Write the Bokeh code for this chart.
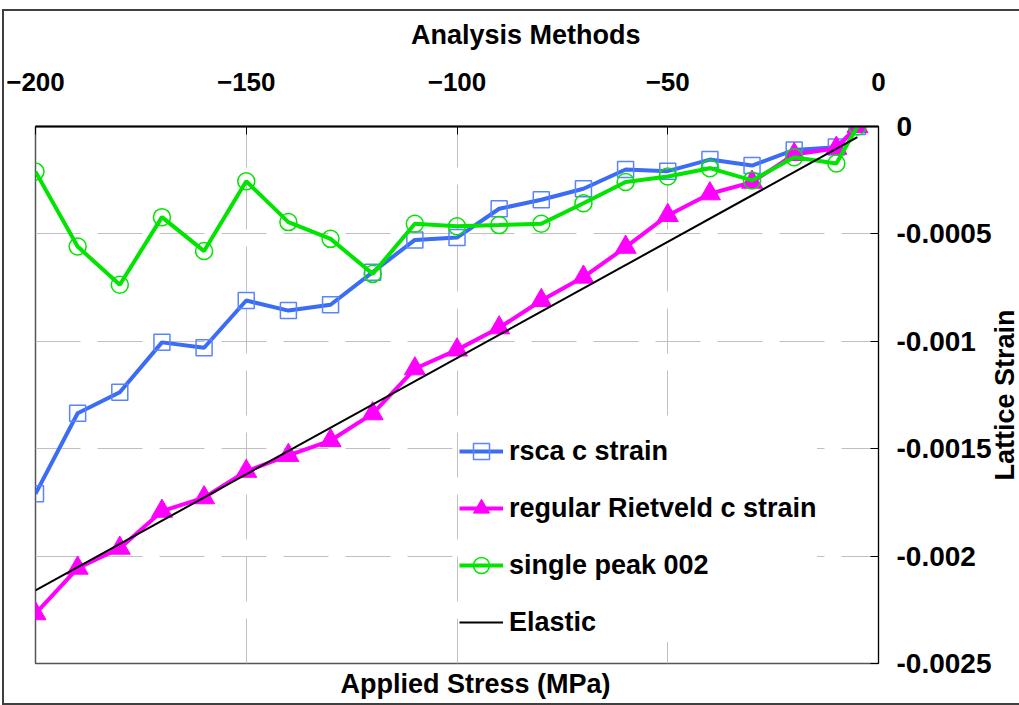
import math
from bokeh.plotting import figure
from bokeh.models import FixedTicker, Legend, LegendItem, Title, Label
from bokeh.embed import file_html
from bokeh.resources import INLINE

# ---- data ----
stress = [-200, -190, -180, -170, -160, -150, -140, -130, -120, -110, -100,
          -90, -80, -70, -60, -50, -40, -30, -20, -10, -5]
rsca_c = [-0.00171, -0.001335, -0.001237, -0.001005, -0.00103, -0.00081, -0.000857,
          -0.00083, -0.000678, -0.000528, -0.000517, -0.000383, -0.000341, -0.00029,
          -0.0002, -0.000208, -0.000154, -0.000182, -0.000109, -0.000096, 0.0]
rietveld_c = [-0.002268, -0.002056, -0.001963, -0.001791, -0.001728, -0.001605, -0.001531,
              -0.001462, -0.001337, -0.001128, -0.00104, -0.000937, -0.00081, -0.000701,
              -0.000562, -0.000414, -0.000313, -0.000259, -0.00013, -0.000101, 0.0]
single_002 = [-0.00021, -0.000559, -0.000737, -0.000422, -0.00058, -0.000255, -0.000445,
              -0.000523, -0.000686, -0.000453, -0.000464, -0.000459, -0.000453, -0.000357,
              -0.000258, -0.000233, -0.000194, -0.000251, -0.000143, -0.000172, 0.0]
elastic_x = [-200, -5]
elastic_y = [-0.00216, -0.00005]

x_ticks = [-200, -150, -100, -50, 0]
y_ticks = [0, -0.0005, -0.001, -0.0015, -0.002, -0.0025]
y_tick_labels = ["0", "-0.0005", "-0.001", "-0.0015", "-0.002", "-0.0025"]

series_names = ["rsca c strain", "regular Rietveld c strain", "single peak 002", "Elastic"]

FONT = "Liberation Sans"

p = figure(width=1015, height=692, x_range=(-200, 0), y_range=(-0.0025, 0),
           x_axis_location="above", y_axis_location="right",
           output_backend="svg", toolbar_location=None,
           min_border_left=31, min_border_right=141, min_border_top=115, min_border_bottom=40)
p.margin = (11, 0, 0, 4)
p.styles = {"outline": "2px solid #404040"}
p.background_fill_color = "white"
p.border_fill_color = "white"
p.outline_line_color = "#555555"
p.outline_line_width = 1.5

# top axis
xa = p.xaxis[0]
xa.ticker = FixedTicker(ticks=x_ticks)
xa.minor_tick_line_color = None
xa.major_tick_in = 8
xa.major_tick_out = 0
xa.major_tick_line_color = "black"
xa.axis_line_color = "black"
xa.axis_line_width = 2
xa.major_label_text_font = FONT
xa.major_label_text_font_style = "bold"
xa.major_label_text_font_size = "26px"
xa.major_label_text_color = "black"
xa.major_label_standoff = 36

# top title "Analysis Methods" (placed right of centre, as in the reference)
p.add_layout(Label(x=-83.7, y=0.000428, text="Analysis Methods",
                   text_align="center", text_baseline="middle",
                   text_font=FONT, text_font_style="bold", text_font_size="27px",
                   text_color="black"), "above")

# right axis
ya = p.yaxis[0]
ya.ticker = FixedTicker(ticks=y_ticks)
ya.major_label_overrides = {v: s for v, s in zip(y_ticks, y_tick_labels)}
ya.minor_tick_line_color = None
ya.major_tick_in = 8
ya.major_tick_out = 0
ya.major_tick_line_color = "black"
ya.axis_line_color = "black"
ya.axis_line_width = 1
ya.major_label_text_font = FONT
ya.major_label_text_font_style = "bold"
ya.major_label_text_font_size = "28px"
ya.major_label_text_color = "black"
ya.major_label_standoff = 18

# "Lattice Strain" title, reading bottom-to-top, right of the tick labels
p.add_layout(Label(x=29.9, y=-0.00125, text="Lattice Strain", angle=math.pi / 2,
                   text_align="center", text_baseline="middle",
                   text_font=FONT, text_font_style="bold", text_font_size="27px",
                   text_color="black"), "left")

# grids
for g in (p.xgrid[0], p.ygrid[0]):
    g.grid_line_color = "#c0c0c0"
    g.grid_line_width = 1
    g.grid_line_dash = "45 17"
p.xgrid[0].ticker = FixedTicker(ticks=x_ticks[1:-1])
p.ygrid[0].ticker = FixedTicker(ticks=y_ticks[1:-1])

# bottom title
p.add_layout(Title(text="Applied Stress (MPa)", align="left", offset=305,
                   text_font=FONT, text_font_style="bold", text_font_size="27px",
                   text_color="black", standoff=6), "below")

BLUE = "#3a6cf4"
MAG = "#ff00ff"
GREEN = "#00e400"

b_line = p.line(stress, rsca_c, line_color=BLUE, line_width=4)
b_mark = p.scatter(stress, rsca_c, marker="square", size=16, fill_color=None,
                   line_color="#5a84ff", line_width=1.5)
m_line = p.line(stress, rietveld_c, line_color=MAG, line_width=4)
m_mark = p.scatter(stress, rietveld_c, marker="triangle", size=21, fill_color=MAG,
                   line_color=MAG, line_width=1)
g_line = p.line(stress, single_002, line_color=GREEN, line_width=4)
g_mark = p.scatter(stress, single_002, marker="circle", size=17, fill_color=None,
                   line_color=GREEN, line_width=1.5)
e_line = p.line(elastic_x, elastic_y, line_color="black", line_width=2)

legend = Legend(items=[
    LegendItem(label=series_names[0], renderers=[b_line, b_mark]),
    LegendItem(label=series_names[1], renderers=[m_line, m_mark]),
    LegendItem(label=series_names[2], renderers=[g_line, g_mark]),
    LegendItem(label=series_names[3], renderers=[e_line]),
], location=(424, 21), margin=0, padding=12, spacing=17,
    glyph_width=44, glyph_height=40, label_height=40, label_standoff=6,
    label_text_font=FONT, label_text_font_style="bold", label_text_font_size="27px",
    label_text_color="black", border_line_color=None,
    background_fill_color="white", background_fill_alpha=1.0)
p.add_layout(legend, "center")

open("out.html", "w").write(file_html(p, INLINE))
